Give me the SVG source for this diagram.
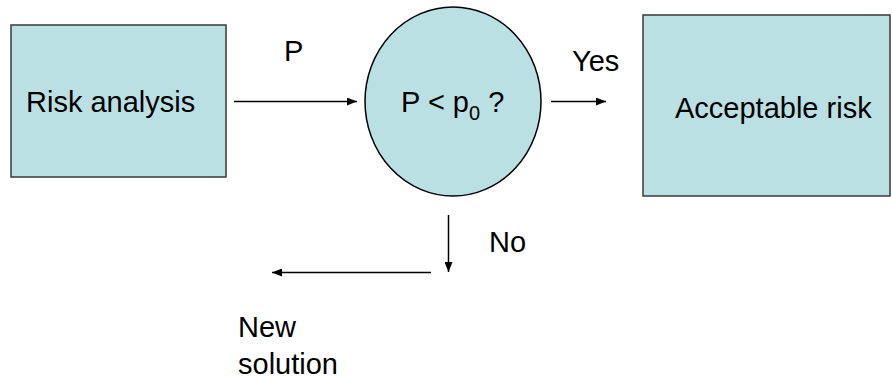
<svg xmlns="http://www.w3.org/2000/svg" width="892" height="379" viewBox="0 0 892 379">
<style>
.box{fill:#BBE0E3;stroke:#3a3a3a;stroke-width:1.5}
.oval{fill:#BBE0E3;stroke:#000;stroke-width:1.5}
.t{font-family:"Liberation Sans",Arial,sans-serif;font-size:29px;fill:#000}
.c{stroke:#000;stroke-width:1.5;fill:none;marker-end:url(#ah)}
</style>
<defs>
<marker id="ah" viewBox="0 0 10 8" refX="10" refY="4" markerWidth="10" markerHeight="8" markerUnits="userSpaceOnUse" orient="auto">
<path d="M0,0 L10,4 L0,8 Z" fill="#000"/>
</marker>
</defs>
<g id="risk-analysis">
<rect class="box" x="11" y="25" width="215" height="152"/>
<text class="t" x="26" y="112">Risk analysis</text>
</g>
<g id="decision">
<ellipse class="oval" cx="453" cy="101.5" rx="88" ry="94.5"/>
<text class="t" x="401" y="112">P &lt; p<tspan font-size="20" dy="8">0</tspan><tspan dy="-8"> ?</tspan></text>
</g>
<g id="acceptable-risk">
<rect class="box" x="643" y="15" width="247" height="181"/>
<text class="t" x="675" y="118">Acceptable risk</text>
</g>
<g id="new-solution">
<text class="t" x="238" y="337">New</text>
<text class="t" x="238" y="374">solution</text>
</g>
<g id="connectors">
<line class="c" x1="234" y1="101.5" x2="357" y2="101.5"/>
<line class="c" x1="551" y1="101.5" x2="606" y2="101.5"/>
<line class="c" x1="448.5" y1="215" x2="448.5" y2="272"/>
<line class="c" x1="431" y1="272.5" x2="272" y2="272.5"/>
<text class="t" x="284" y="61">P</text>
<text class="t" x="572" y="71">Yes</text>
<text class="t" x="489" y="252">No</text>
</g>
</svg>
